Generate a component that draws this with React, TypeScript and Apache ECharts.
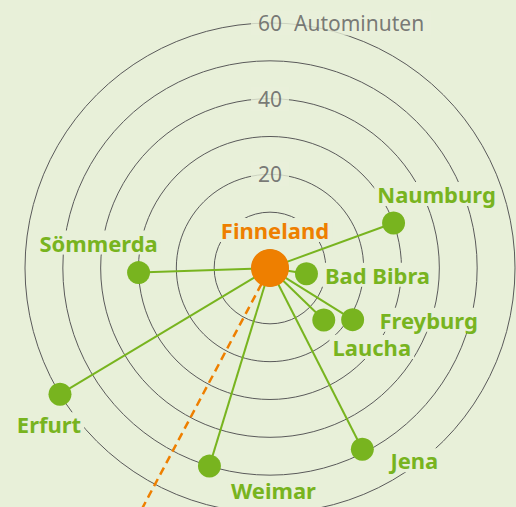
import React, { useEffect, useRef } from "react";
import * as echarts from "echarts";

// ---- data ----
const centerName = "Finneland";
const places = ["Naumburg", "Sömmerda", "Bad Bibra", "Laucha", "Freyburg", "Erfurt", "Weimar", "Jena"];
const minutes = [30, 30, 5, 15, 21, 60, 50, 49];
const bearings = [70, 268, 99, 134, 122, 239, 197, 153]; // degrees clockwise from north
const ringTicks = [20, 40, 60];
const unitLabel = "Autominuten";
const dashedBearing = 208;
const dashedReach = 75;

// ---- layout / style ----
const labelOffsets: number[][] = [
  [43, -29], [-40, -30], [71, 1], [48, 27], [76, 0], [-11, 30], [64, 24], [52, 11],
];
const BG = "#e8f0d9";
const GREEN = "#78b41f";
const ORANGE = "#ee7f00";
const GREY = "#5a5a5a";
const CENTER = [270, 268];
const INNER = 18;
const OUTER = 245;
const AXIS_MAX = 60;
const EXT_MAX = 80;
const FONT = "Noto Sans";

const hiddenAngle = (idx: number) => ({
  polarIndex: idx, type: "value", min: 0, max: 360, startAngle: 90, clockwise: true,
  axisLine: { show: false }, axisTick: { show: false }, axisLabel: { show: false },
  splitLine: { show: false },
});

export default function App() {
  const ref = useRef<HTMLDivElement>(null);
  useEffect(() => {
    const chart = echarts.init(ref.current!, null, { renderer: "svg" });
    const extOuter = INNER + ((OUTER - INNER) * EXT_MAX) / AXIS_MAX;
    const routeSeries = places.map((p, i) => ({
      type: "line",
      coordinateSystem: "polar",
      polarIndex: 0,
      name: p,
      data: [[0, bearings[i]], [minutes[i], bearings[i]]],
      symbol: "none",
      silent: true,
      lineStyle: { color: GREEN, width: 2 },
      z: 2,
    }));
    const option: any = {
      animation: false,
      backgroundColor: BG,
      polar: [
        { center: CENTER, radius: [INNER, OUTER] },
        { center: CENTER, radius: OUTER },
        { center: CENTER, radius: [INNER, extOuter] },
      ],
      angleAxis: [hiddenAngle(0), hiddenAngle(1), hiddenAngle(2)],
      radiusAxis: [
        {
          polarIndex: 0, type: "value", min: 0, max: AXIS_MAX, interval: 10,
          axisLine: { show: false }, axisTick: { show: false }, axisLabel: { show: false },
          splitLine: { show: true, lineStyle: { color: GREY, width: 1 } },
        },
        {
          polarIndex: 1, type: "value", min: 0, max: 1,
          axisLine: { show: false }, axisTick: { show: false }, axisLabel: { show: false },
          splitLine: { show: false },
        },
        {
          polarIndex: 2, type: "value", min: 0, max: EXT_MAX,
          axisLine: { show: false }, axisTick: { show: false }, axisLabel: { show: false },
          splitLine: { show: false },
        },
      ],
      series: [
        ...routeSeries,
        {
          type: "line",
          coordinateSystem: "polar",
          polarIndex: 2,
          clip: false,
          silent: true,
          data: [[0, dashedBearing], [dashedReach, dashedBearing]],
          symbol: "none",
          lineStyle: { color: ORANGE, width: 2.5, type: [8, 5] },
          z: 3,
        },
        {
          type: "scatter",
          coordinateSystem: "polar",
          polarIndex: 0,
          silent: true,
          symbolSize: 0.1,
          data: ringTicks.map((t) =>
            t === 60
              ? {
                  value: [t, 0],
                  label: {
                    align: "left",
                    offset: [-19, 0],
                    formatter: "{n|" + t + "}{u|" + unitLabel + "}",
                  },
                }
              : { value: [t, 0] }
          ),
          label: {
            show: true,
            position: "inside",
            formatter: (p: any) => String(p.value[0]),
            color: GREY,
            fontFamily: FONT,
            fontSize: 21,
            backgroundColor: BG,
            padding: [2, 7],
            rich: {
              n: { color: GREY, fontFamily: FONT, fontSize: 21 },
              u: { color: GREY, fontFamily: FONT, fontSize: 21, padding: [0, 0, 0, 12] },
            },
          },
          z: 5,
        },
        {
          type: "scatter",
          coordinateSystem: "polar",
          polarIndex: 0,
          silent: true,
          symbolSize: 23,
          itemStyle: { color: GREEN, opacity: 1 },
          data: places.map((p, i) => ({
            name: p,
            value: [minutes[i], bearings[i]],
            label: { offset: labelOffsets[i] },
          })),
          label: {
            show: true,
            position: "inside",
            formatter: "{b}",
            color: GREEN,
            fontFamily: FONT,
            fontWeight: "bold",
            fontSize: 22,
            backgroundColor: BG,
            padding: [1, 3],
          },
          z: 6,
        },
        {
          type: "scatter",
          coordinateSystem: "polar",
          polarIndex: 1,
          silent: true,
          symbolSize: 38,
          itemStyle: { color: ORANGE, opacity: 1 },
          data: [{ name: centerName, value: [0, 0] }],
          label: {
            show: true,
            position: "inside",
            offset: [5, -38],
            formatter: "{b}",
            color: ORANGE,
            fontFamily: FONT,
            fontWeight: "bold",
            fontSize: 22,
            backgroundColor: BG,
            padding: [1, 3],
          },
          z: 7,
        },
      ],
    };
    chart.setOption(option);
    return () => chart.dispose();
  }, []);
  return (
    <div
      ref={ref}
      style={{ position: "fixed", left: 0, top: 0, width: 516, height: 507, background: BG }}
    />
  );
}
